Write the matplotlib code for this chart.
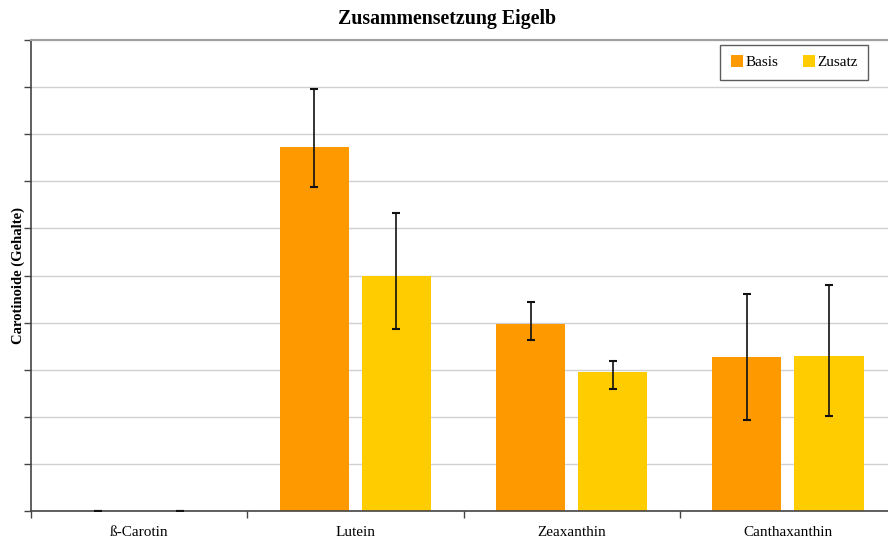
import numpy as np
import matplotlib
matplotlib.use('Agg')
import matplotlib.pyplot as plt
from matplotlib.ticker import FixedLocator, NullFormatter

plt.rcParams['font.family'] = ['Liberation Serif', 'DejaVu Serif']

# Data
categories = ['ß-Carotin', 'Lutein', 'Zeaxanthin', 'Canthaxanthin']
basis = [0.0, 7.72, 3.96, 3.26]
basis_err_lo = [0.0, 0.84, 0.34, 1.33]
basis_err_hi = [0.0, 1.25, 0.47, 1.35]
zusatz = [0.0, 5.0, 2.96, 3.30]
zusatz_err_lo = [0.0, 1.13, 0.37, 1.28]
zusatz_err_hi = [0.0, 1.33, 0.23, 1.49]

fig = plt.figure(figsize=(8.88, 5.4), dpi=100)
ax = fig.add_axes([31/888, 29/540, 865/888, 471/540])

x = np.arange(len(categories))
w = 0.32
off = 0.19
ax.bar(x - off, basis, w, color='#FF9900', label='Basis', zorder=2)
ax.bar(x + off, zusatz, w, color='#FFCC00', label='Zusatz', zorder=2)
ax.errorbar(x - off, basis, yerr=[basis_err_lo, basis_err_hi], fmt='none', ecolor='#111111',
            elinewidth=1.2, capsize=3, capthick=1.5, zorder=3)
ax.errorbar(x + off, zusatz, yerr=[zusatz_err_lo, zusatz_err_hi], fmt='none', ecolor='#111111',
            elinewidth=1.2, capsize=3, capthick=1.5, zorder=3)

ax.set_xlim(-0.5, 3.5)
ax.set_ylim(0, 10)
ax.set_yticks(np.arange(0, 11, 1))
ax.yaxis.set_major_formatter(NullFormatter())
ax.yaxis.grid(True, color='#d0d0d0', linewidth=1, zorder=0)
ax.set_axisbelow(True)

ax.set_xticks(x)
ax.set_xticklabels(categories, fontsize=11)
ax.tick_params(axis='x', which='major', length=0, pad=11)
ax.xaxis.set_minor_locator(FixedLocator([-0.5, 0.5, 1.5, 2.5, 3.5]))
ax.tick_params(axis='x', which='minor', length=5, width=1, color='#444444', direction='out')
ax.tick_params(axis='y', length=5, width=1, color='#444444', direction='out')

ax.spines['right'].set_visible(False)
ax.spines['top'].set_color('#a0a0a0')
ax.spines['top'].set_linewidth(1.5)
ax.spines['left'].set_color('#444444')
ax.spines['left'].set_linewidth(1.2)
ax.spines['bottom'].set_color('#444444')
ax.spines['bottom'].set_linewidth(1.2)

ax.set_ylabel('Carotinoide (Gehalte)', fontsize=10.5, fontweight='bold')
ax.yaxis.set_label_coords(-6/865, 0.5)
fig.text(447/888, 1 - 19/540, 'Zusammensetzung Eigelb', fontsize=14.3,
         fontweight='bold', ha='center', va='center')

leg = ax.legend(loc='upper right', ncol=2, fontsize=11, frameon=True, fancybox=False,
                edgecolor='#333333', handlelength=0.8, handleheight=0.8,
                handletextpad=0.15, columnspacing=1.6, borderpad=0.7,
                bbox_to_anchor=(845/865, 474/471))
leg.get_frame().set_linewidth(1.0)

fig.savefig('out.png', dpi=100)
